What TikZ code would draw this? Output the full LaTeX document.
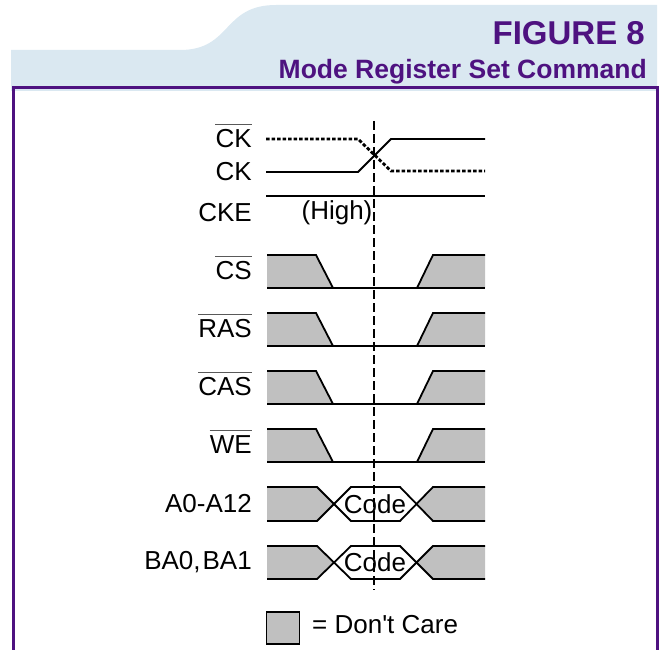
\documentclass[tikz,border=0pt]{standalone}
\usepackage{fontspec}
\setmainfont{Liberation Sans}
\definecolor{hdrblue}{RGB}{218,232,241}
\definecolor{fpurple}{RGB}{78,18,128}
\definecolor{dcgray}{RGB}{192,192,192}
\tikzset{
  sig/.style={line width=1.8pt, line join=miter},
  dotsig/.style={line width=2.8pt, dash pattern=on 3.5pt off 2pt},
  dc/.style={fill=dcgray},
  lbl/.style={anchor=east, inner sep=0pt, font=\fontsize{26}{26}\selectfont},
  txt/.style={inner sep=0pt, font=\fontsize{26}{26}\selectfont},
  ovline/.style={draw=black!65, line width=1pt},
  marker/.style={line width=1.3pt, dash pattern=on 9pt off 4pt},
  frame/.style={draw=fpurple, line width=3pt}
}
\begin{document}
\begin{tikzpicture}[x=1pt,y=-1pt]
\useasboundingbox (0,0) rectangle (661,650);
% header
\fill[hdrblue] (11,91) -- (11,50) -- (180,50) .. controls (232,50) and (222,5) .. (276,5) -- (657,5) -- (657,91) -- cycle;
\node[anchor=base east, inner sep=0pt, text=fpurple, font=\fontsize{33}{33}\selectfont\bfseries] (fig) at (645,45) {FIGURE 8};
\node[anchor=base east, inner sep=0pt, text=fpurple, font=\fontsize{26.5}{26.5}\selectfont\bfseries] (ttl) at (647,79) {Mode Register Set Command};
% frame
\draw[frame] (13,650) -- (13,88) -- (657,88) -- (657,650);
% labels
\node[lbl] (lckb) at (252,139) {CK};
\node[lbl] (lck) at (252,172) {CK};
\node[lbl] (lcke) at (252,213) {CKE};
\node[txt] (high) at (337,213) {(High)};
\node[lbl] (lcs) at (252,271) {CS};
\node[lbl] (lras) at (252,329) {RAS};
\node[lbl] (lcas) at (252,387) {CAS};
\node[lbl] (lwe) at (252,445) {WE};
\node[lbl] (la) at (252,504) {A0-A12};
\node[lbl] (lba) at (252,562) {BA0,\kern2pt BA1};
\foreach \n in {lckb,lcs,lras,lcas,lwe}{
  \draw[ovline] ([yshift=5pt]\n.north west) -- ([yshift=5pt]\n.north east);
}
% clock
\draw[dotsig] (266,139) -- (358,139) -- (391,171) -- (485,171);
\draw[sig] (266,172) -- (358,172) -- (391,139) -- (485,139);
\draw[sig] (266,196) -- (485,196);
% control signals
\foreach \t/\b in {255/288, 313/346, 371/404, 429/462}{
  \fill[dc] (267,\t) -- (316,\t) -- (333,\b) -- (267,\b) -- cycle;
  \fill[dc] (433,\t) -- (485,\t) -- (485,\b) -- (417,\b) -- cycle;
  \draw[sig] (267,\t) -- (316,\t) -- (333,\b);
  \draw[sig] (267,\b) -- (485,\b);
  \draw[sig] (417,\b) -- (433,\t) -- (485,\t);
}
% bus signals
\foreach \t/\b/\n in {487/521/ca, 546/579/cb}{
  \pgfmathsetmacro{\m}{(\t+\b)/2}
  \fill[dc] (267,\t) -- (317,\t) -- (334,\m) -- (317,\b) -- (267,\b) -- cycle;
  \fill[dc] (485,\t) -- (433,\t) -- (417,\m) -- (433,\b) -- (485,\b) -- cycle;
  \draw[sig] (267,\t) -- (317,\t) -- (351,\b) -- (400,\b) -- (433,\t) -- (485,\t);
  \draw[sig] (267,\b) -- (317,\b) -- (351,\t) -- (400,\t) -- (433,\b) -- (485,\b);
  \node[txt] (\n) at (375,\m) {Code};
}
% marker line
\coordinate (mtop) at (374,121);
\coordinate (mbot) at (374,590);
\draw[marker] (mtop) -- (mbot);
% legend
\node[draw, line width=1.8pt, fill=dcgray, minimum width=33pt, minimum height=32pt, inner sep=0pt] (leg) at (283,628) {};
\node[txt, anchor=west] (legt) at (312,625) {= Don\textquotesingle t Care};
\end{tikzpicture}
\end{document}
